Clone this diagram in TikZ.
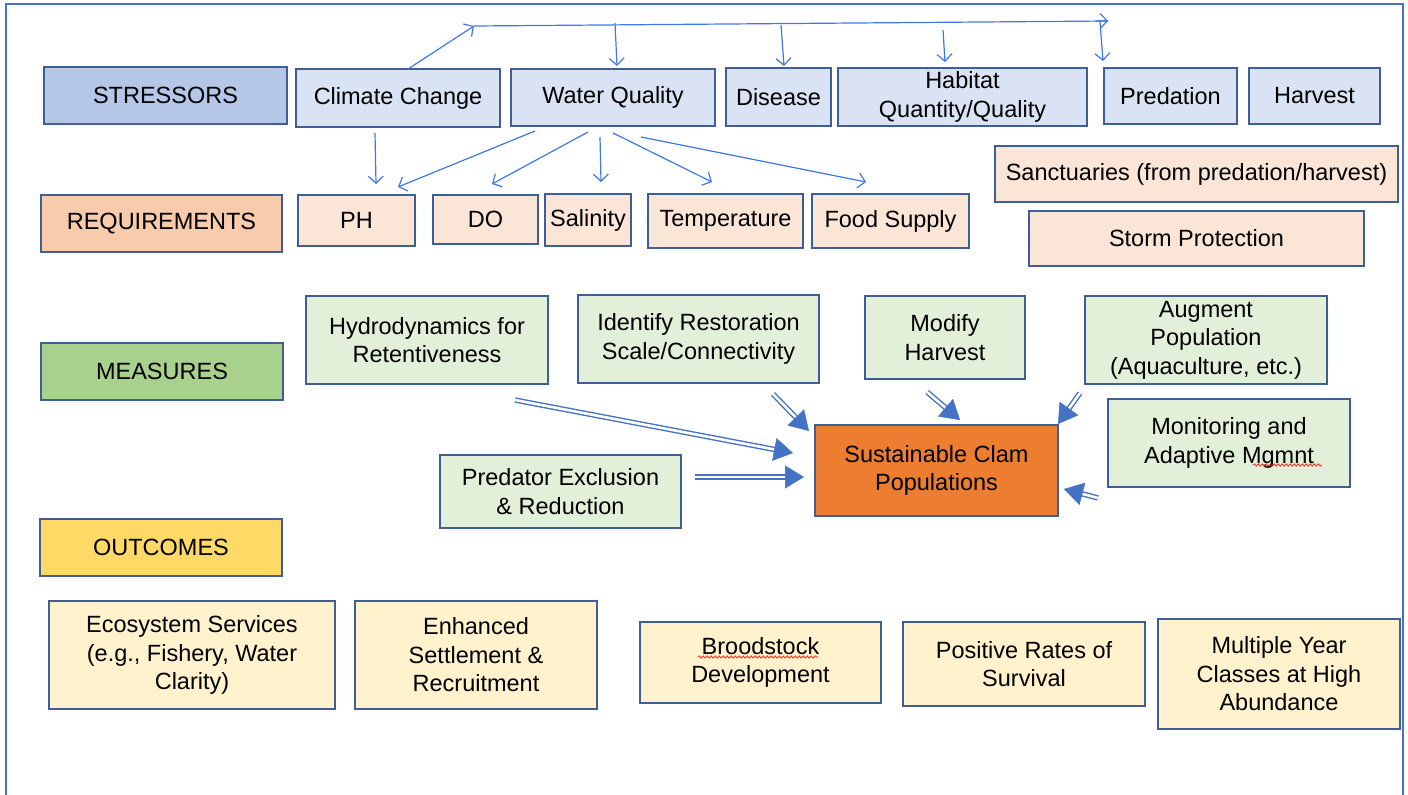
\documentclass[tikz,border=0pt]{standalone}
\usepackage{fontspec}
\setmainfont{Liberation Sans}
\usetikzlibrary{arrows.meta,calc,decorations.pathmorphing}
\definecolor{bord}{HTML}{3F5E96}
\definecolor{frameblue}{HTML}{4472C4}
\definecolor{thinblue}{HTML}{3F78E6}
\definecolor{dblblue}{HTML}{4472C4}
\definecolor{stL}{HTML}{B4C7E7}
\definecolor{stB}{HTML}{DAE3F3}
\definecolor{rqL}{HTML}{F8CBAD}
\definecolor{rqB}{HTML}{FBE5D6}
\definecolor{msL}{HTML}{A9D18E}
\definecolor{msB}{HTML}{E2F0D9}
\definecolor{ocL}{HTML}{FFD966}
\definecolor{ocB}{HTML}{FFF2CC}
\definecolor{clam}{HTML}{ED7D31}
\tikzset{
  box/.style={draw=bord, line width=1.3pt, inner sep=0pt, align=center,
    font=\fontsize{23.5}{28.5}\selectfont},
  thinarrow/.style={draw=thinblue, line width=1.2pt, -{Straight Barb[length=7pt,width=15pt]}},
  dblline/.style={draw=dblblue, line width=1.4pt, double=white, double distance=2.6pt},
  dblhead/.style={draw=dblblue, fill=dblblue, line width=0.5pt, -{Triangle[length=19pt,width=23pt]}},
  squiggle/.style={draw=red, line width=0.6pt, decorate, decoration={snake, amplitude=1.2pt, segment length=4pt}},
}
\newcommand\mybox[7]{\node[box, #2, minimum width={#5-#3}, minimum height={#6-#4}] (#1) at ({(#3+#5)/2},{(#4+#6)/2}) {#7};}
\newcommand\dblarrow[2]{%
  \draw[dblline] (#1) -- ($(#2)!17pt!(#1)$);
  \draw[dblhead] ($(#2)!19pt!(#1)$) -- (#2);}
\begin{document}
\begin{tikzpicture}[x=1pt,y=-1pt]
\useasboundingbox (0,0) rectangle (1408,795);
% frame
\draw[frameblue, line width=1.3pt] (6,795) -- (6,4) -- (1403,4) -- (1403,795);

% Stressors row
\mybox{stressors}{fill=stL}{44}{67}{287}{124}{STRESSORS}
\mybox{climate}{fill=stB}{296}{69}{500}{127}{Climate Change}
\mybox{water}{fill=stB}{511}{69}{715}{126}{Water Quality}
\mybox{disease}{fill=stB}{726}{68}{831}{126}{Disease}
\mybox{habitat}{fill=stB}{838}{68}{1087}{126}{Habitat\\Quantity/Quality}
\mybox{predation}{fill=stB}{1104}{68}{1237}{124}{Predation}
\mybox{harvest}{fill=stB}{1249}{68}{1380}{124}{Harvest}

% Requirements row
\mybox{requirements}{fill=rqL}{41}{195}{282}{252}{REQUIREMENTS}
\mybox{ph}{fill=rqB}{298}{195}{415}{246}{PH}
\mybox{do}{fill=rqB}{433}{195}{538}{244}{DO}
\mybox{salinity}{fill=rqB}{545}{194}{631}{246}{Salinity}
\mybox{temperature}{fill=rqB}{648}{194}{803}{248}{Temperature}
\mybox{food}{fill=rqB}{812}{194}{969}{248}{Food Supply}
\mybox{sanct}{fill=rqB}{995}{146}{1398}{202}{Sanctuaries (from predation/harvest)}
\mybox{storm}{fill=rqB}{1029}{211}{1364}{266}{Storm Protection}

% Measures row
\mybox{measures}{fill=msL}{41}{343}{283}{400}{MEASURES}
\mybox{hydro}{fill=msB}{306}{296}{548}{384}{Hydrodynamics for\\Retentiveness}
\mybox{identify}{fill=msB}{578}{295}{819}{383}{Identify Restoration\\Scale/Connectivity}
\mybox{modify}{fill=msB}{865}{296}{1025}{379}{Modify\\Harvest}
\mybox{augment}{fill=msB}{1085}{296}{1327}{384}{Augment\\Population\\(Aquaculture, etc.)}
\mybox{monitor}{fill=msB}{1108}{399}{1350}{487}{Monitoring and\\Adaptive Mgmnt}
\mybox{predex}{fill=msB}{440}{455}{681}{528}{Predator Exclusion\\\& Reduction}
\mybox{clampop}{fill=clam}{815}{425}{1058}{516}{Sustainable Clam\\Populations}

% Outcomes row
\mybox{outcomes}{fill=ocL}{40}{519}{282}{576}{OUTCOMES}
\mybox{eco}{fill=ocB}{49}{601}{335}{709}{Ecosystem Services\\(e.g., Fishery, Water\\Clarity)}
\mybox{settle}{fill=ocB}{355}{601}{597}{709}{Enhanced\\Settlement \&\\Recruitment}
\mybox{brood}{fill=ocB}{640}{622}{881}{703}{Broodstock\\Development}
\mybox{survival}{fill=ocB}{903}{622}{1145}{706}{Positive Rates of\\Survival}
\mybox{multi}{fill=ocB}{1158}{619}{1400}{729}{Multiple Year\\Classes at High\\Abundance}

% spell-check squiggles
\draw[squiggle] (1253,465) -- (1322,465);
\draw[squiggle] (698,657) -- (818,657);

% stressor connectors
\coordinate (ccTop) at (408,69);
\coordinate (hl0) at (474,26);
\coordinate (hl1) at (1108,21);
\draw[thinarrow] (ccTop) -- (hl0);
\draw[draw=thinblue, line width=1.2pt] (hl0) -- (hl1);
\draw[thinarrow] ($(hl0)!0.98!(hl1)$) -- (hl1);
\coordinate (w0) at (615,23);  \coordinate (w1) at (617,66);
\coordinate (d0) at (781,25);  \coordinate (d1) at (784,66);
\coordinate (h0) at (943,30);  \coordinate (h1) at (945,62);
\coordinate (p0) at (1100,22); \coordinate (p1) at (1103,61);
\draw[thinarrow] (w0) -- (w1);
\draw[thinarrow] (d0) -- (d1);
\draw[thinarrow] (h0) -- (h1);
\draw[thinarrow] (p0) -- (p1);

% requirement connectors
\coordinate (c0) at (375,133); \coordinate (c1) at (376,184);
\coordinate (q0) at (535,131); \coordinate (q1) at (398,187);
\coordinate (q2) at (588,132); \coordinate (q3) at (492,184);
\coordinate (q4) at (600,137); \coordinate (q5) at (601,182);
\coordinate (q6) at (613,133); \coordinate (q7) at (712,182);
\coordinate (q8) at (641,137); \coordinate (q9) at (866,182);
\draw[thinarrow] (c0) -- (c1);
\draw[thinarrow] (q0) -- (q1);
\draw[thinarrow] (q2) -- (q3);
\draw[thinarrow] (q4) -- (q5);
\draw[thinarrow] (q6) -- (q7);
\draw[thinarrow] (q8) -- (q9);

% measure double arrows
\coordinate (m1a) at (515,400); \coordinate (m1b) at (793,453);
\coordinate (m2a) at (773,394); \coordinate (m2b) at (809,431);
\coordinate (m3a) at (927,392); \coordinate (m3b) at (960,420);
\coordinate (m4a) at (1080,393); \coordinate (m4b) at (1058,424);
\coordinate (m5a) at (695,477); \coordinate (m5b) at (804,477);
\coordinate (m6a) at (1098,498); \coordinate (m6b) at (1064,489);
\dblarrow{m1a}{m1b}
\dblarrow{m2a}{m2b}
\dblarrow{m3a}{m3b}
\dblarrow{m4a}{m4b}
\dblarrow{m5a}{m5b}
\dblarrow{m6a}{m6b}
\end{tikzpicture}
\end{document}
